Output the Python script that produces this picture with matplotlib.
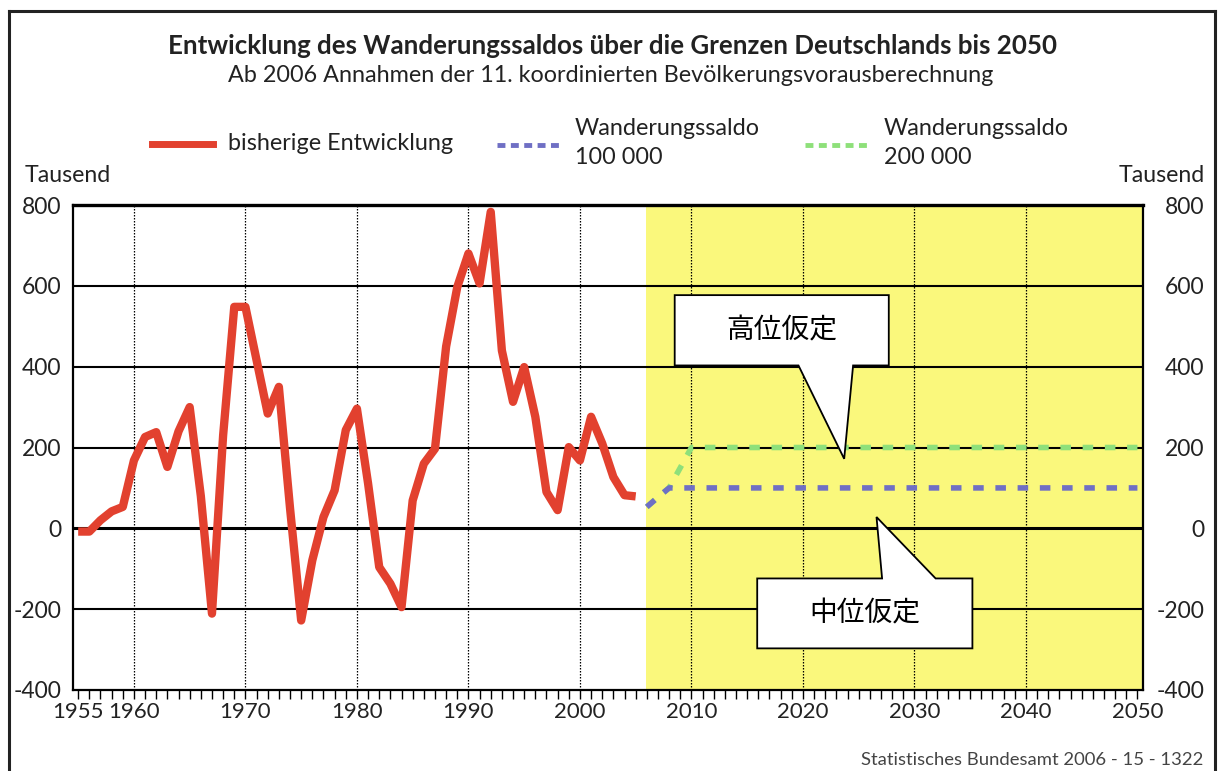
import matplotlib
matplotlib.use('Agg')
import matplotlib.pyplot as plt
from matplotlib.lines import Line2D
from matplotlib.patches import Polygon

plt.rcParams['font.family'] = ['Lato', 'DejaVu Sans']
plt.rcParams['axes.unicode_minus'] = False

# ---------------- data (Tausend) ----------------
hist_years = list(range(1955, 2006))
hist_values = [-8, -8, 20, 42, 53, 168, 226, 238, 152, 240,
               300, 80, -211, 230, 548, 548, 416, 284, 350, 50,
               -228, -79, 28, 94, 243, 296, 111, -96, -137, -195,
               69, 160, 197, 450, 597, 680, 606, 783, 440, 313,
               399, 276, 90, 45, 201, 168, 276, 210, 127, 82, 79]

w100_years = [2006, 2007, 2008, 2050]
w100_values = [53, 77, 100, 100]

w200_years = [2006, 2007, 2008, 2009, 2010, 2050]
w200_values = [53, 77, 100, 150, 200, 200]

x_tick_years = [1955, 1960, 1970, 1980, 1990, 2000, 2010, 2020, 2030, 2040, 2050]
y_ticks = [-400, -200, 0, 200, 400, 600, 800]

title = "Entwicklung des Wanderungssaldos über die Grenzen Deutschlands bis 2050"
subtitle = "Ab 2006 Annahmen der 11. koordinierten Bevölkerungsvorausberechnung"
legend_labels = ["bisherige Entwicklung", "Wanderungssaldo\n100 000", "Wanderungssaldo\n200 000"]
callout_high = "高位仮定"
callout_mid = "中位仮定"
source = "Statistisches Bundesamt 2006 - 15 - 1322"

RED = '#E2412F'
BLUE = '#6F6FC4'
GREEN = '#8EE07A'
YELLOW = '#FAF87C'
TXT = '#222222'

W, H = 1223, 771
fig = plt.figure(figsize=(W / 100, H / 100), dpi=100)
fig.patch.set_facecolor('white')

def fx(px):
    return px / W

def fy(py):
    return 1 - py / H

ax_l, ax_r, ax_t, ax_b = 72.6, 1143, 205, 690
ax = fig.add_axes([fx(ax_l), fy(ax_b), fx(ax_r - ax_l), (ax_b - ax_t) / H])
ax.set_xlim(1954.5, 2050.5)
ax.set_ylim(-400, 800)

# forecast background
ax.axvspan(2005.9, 2050.5, color=YELLOW, zorder=0, lw=0)

# grid
for v in y_ticks[1:-1]:
    ax.axhline(v, color='black', lw=2.2 if v == 0 else 1.5, zorder=1)
for yr in x_tick_years[1:-1]:
    ax.axvline(yr, color='black', lw=0.9, ls=(0, (1.2, 1.2)), zorder=1)

# series
ax.plot(w200_years, w200_values, color=GREEN, lw=4, ls=(0, (1.9, 2.1)),
        dash_capstyle='butt', zorder=3)
ax.plot(w100_years, w100_values, color=BLUE, lw=4, ls=(0, (1.9, 2.1)),
        dash_capstyle='butt', zorder=4)
ax.plot(hist_years, hist_values, color=RED, lw=6, solid_joinstyle='round',
        solid_capstyle='butt', zorder=5)

# spines
for s in ['left', 'right', 'bottom']:
    ax.spines[s].set_linewidth(1.6)
ax.spines['top'].set_linewidth(2.4)

# ticks
ax.set_xticks(x_tick_years)
ax.set_xticklabels([str(y) for y in x_tick_years])
ax.set_xticks(list(range(1955, 2051)), minor=True)
ax.tick_params(axis='x', which='both', direction='out', length=6.5, width=1,
               labelsize=16, pad=2, labelcolor=TXT)
ax.set_yticks(y_ticks)
ax.set_yticklabels([str(v) for v in y_ticks])
ax.tick_params(axis='y', length=0, labelsize=16.5, pad=8, labelcolor=TXT)

ax2 = ax.twinx()
ax2.set_ylim(ax.get_ylim())
ax2.set_yticks(y_ticks)
ax2.set_yticklabels([str(v) for v in y_ticks])
ax2.tick_params(axis='y', length=0, labelsize=16.5, pad=44, labelcolor=TXT)
for lab in ax2.get_yticklabels():
    lab.set_ha('right')
for s in ax2.spines.values():
    s.set_visible(False)

# callouts (data coordinates)
def callout(x0, x1, ytop, ybot, b1, b2, tip, on_bottom, text):
    if on_bottom:
        pts = [(x0, ytop), (x1, ytop), (x1, ybot), (b2, ybot), tip, (b1, ybot), (x0, ybot)]
    else:
        pts = [(x0, ytop), (b1, ytop), tip, (b2, ytop), (x1, ytop), (x1, ybot), (x0, ybot)]
    ax.add_patch(Polygon(pts, closed=True, facecolor='white', edgecolor='black',
                         lw=1.3, zorder=10))
    ax.text((x0 + x1) / 2, (ytop + ybot) / 2, text, ha='center', va='center',
            fontsize=20, family=['Noto Sans CJK JP', 'DejaVu Sans'], zorder=11)

callout(2008.5, 2027.7, 577, 403, 2019.6, 2024.5, (2023.7, 172), True, callout_high)
callout(2015.9, 2035.2, -124, -297, 2027.1, 2031.9, (2026.6, 28), False, callout_mid)

# titles
fig.text(fx(612), fy(46), title, ha='center', va='center', fontsize=18.6,
         fontweight='bold', color=TXT)
fig.text(fx(611), fy(75), subtitle, ha='center', va='center', fontsize=16.8,
         color=TXT)

# legend
fig.add_artist(Line2D([fx(152), fx(213)], [fy(144), fy(144)], color=RED, lw=5,
                      transform=fig.transFigure))
fig.text(fx(228), fy(144), legend_labels[0], ha='left', va='center', fontsize=16.8,
         color=TXT)
fig.add_artist(Line2D([fx(497), fx(560)], [fy(145), fy(145)], color=BLUE, lw=3.5,
                      ls=(0, (1.63, 1.12)), dash_capstyle='butt',
                      transform=fig.transFigure))
fig.text(fx(575), fy(143), legend_labels[1], ha='left', va='center', fontsize=16.8,
         color=TXT, linespacing=1.45)
fig.add_artist(Line2D([fx(805), fx(868)], [fy(145), fy(145)], color=GREEN, lw=3.5,
                      ls=(0, (1.63, 1.12)), dash_capstyle='butt',
                      transform=fig.transFigure))
fig.text(fx(884), fy(143), legend_labels[2], ha='left', va='center', fontsize=16.8,
         color=TXT, linespacing=1.45)

# unit labels
fig.text(fx(25), fy(176), "Tausend", ha='left', va='center', fontsize=16.7, color=TXT)
fig.text(fx(1205), fy(176), "Tausend", ha='right', va='center', fontsize=16.7, color=TXT)

# source
fig.text(fx(1203), fy(760), source, ha='right', va='center', fontsize=13.3, color='#444444')

# frame
for xs, ys in [([9, 9], [11, 771]), ([9, 1215], [11, 11]), ([1215, 1215], [11, 771])]:
    fig.add_artist(Line2D([fx(x) for x in xs], [fy(y) for y in ys], color=TXT,
                          lw=2.2, transform=fig.transFigure))

fig.savefig('out.png', dpi=100)
